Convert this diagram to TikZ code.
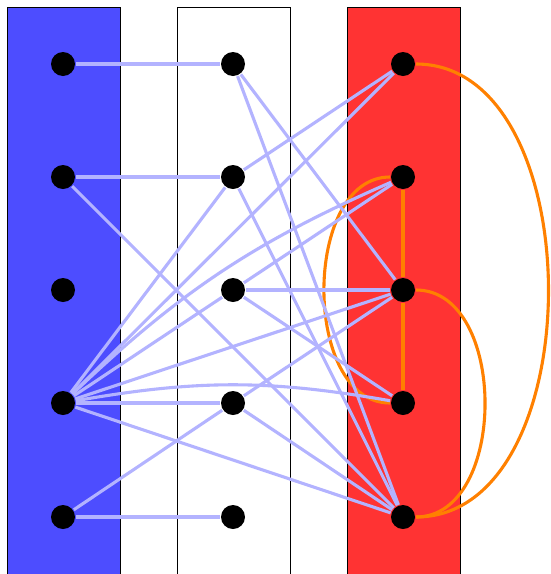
\documentclass[tikz,border=0pt]{standalone}
\definecolor{laneblue}{RGB}{77,77,255}
\definecolor{lanered}{RGB}{255,51,51}
\definecolor{linkblue}{RGB}{179,179,255}
\definecolor{linkorange}{RGB}{255,128,0}
\begin{document}
\begin{tikzpicture}[x=1pt,y=1pt,
  lane/.style={draw=black,line width=0.8pt},
  vertex/.style={circle,fill=black,inner sep=0pt,minimum size=24pt,outer sep=1pt},
  link/.style={draw=linkblue,line width=3.1pt},
  tie/.style={draw=linkorange,line width=3.1pt}]
\useasboundingbox (0,0) rectangle (551,-574);
% three lanes
\begin{scope}
  \clip (0,0) rectangle (551,-574);
  \draw[lane,fill=laneblue] (7,-7) rectangle (120.5,-590);
  \draw[lane,fill=white] (177,-7) rectangle (290.5,-590);
  \draw[lane,fill=lanered] (347,-7) rectangle (460.5,-590);
\end{scope}
% vertices
\foreach \i/\y in {1/64,2/177,3/290,4/403,5/517}{
  \node[vertex] (L\i) at (63,-\y) {};
  \node[vertex] (M\i) at (233,-\y) {};
  \node[vertex] (R\i) at (403,-\y) {};
}
% links within the red lane
\draw[tie] (R1) to[out=0,in=0,looseness=1.0] (R5);
\draw[tie] (R3) to[out=0,in=0,looseness=1.04] (R5);
\draw[tie] (R2) to[out=180,in=180,looseness=1.0] (R4);
\draw[tie] (R2) -- (R3);
\draw[tie] (R3) -- (R4);
% links between lanes
\draw[link] (L1) -- (M1);
\draw[link] (L2) -- (M2);
\draw[link] (L2) -- (R5);
\draw[link] (L4) -- (M2);
\draw[link] (L4) -- (M3);
\draw[link] (L4) -- (M4);
\draw[link] (L4) -- (R1);
\draw[link] (L4) to[bend left=10] (R2);
\draw[link] (L4) -- (R3);
\draw[link] (L4) to[bend left=10] (R4);
\draw[link] (L4) -- (R5);
\draw[link] (L5) -- (M4);
\draw[link] (L5) -- (M5);
\draw[link] (M1) -- (R3);
\draw[link] (M1) -- (R5);
\draw[link] (M2) -- (R1);
\draw[link] (M2) -- (R5);
\draw[link] (M3) -- (R2);
\draw[link] (M3) -- (R3);
\draw[link] (M3) -- (R4);
\draw[link] (M4) -- (R3);
\draw[link] (M4) -- (R5);
\end{tikzpicture}
\end{document}
